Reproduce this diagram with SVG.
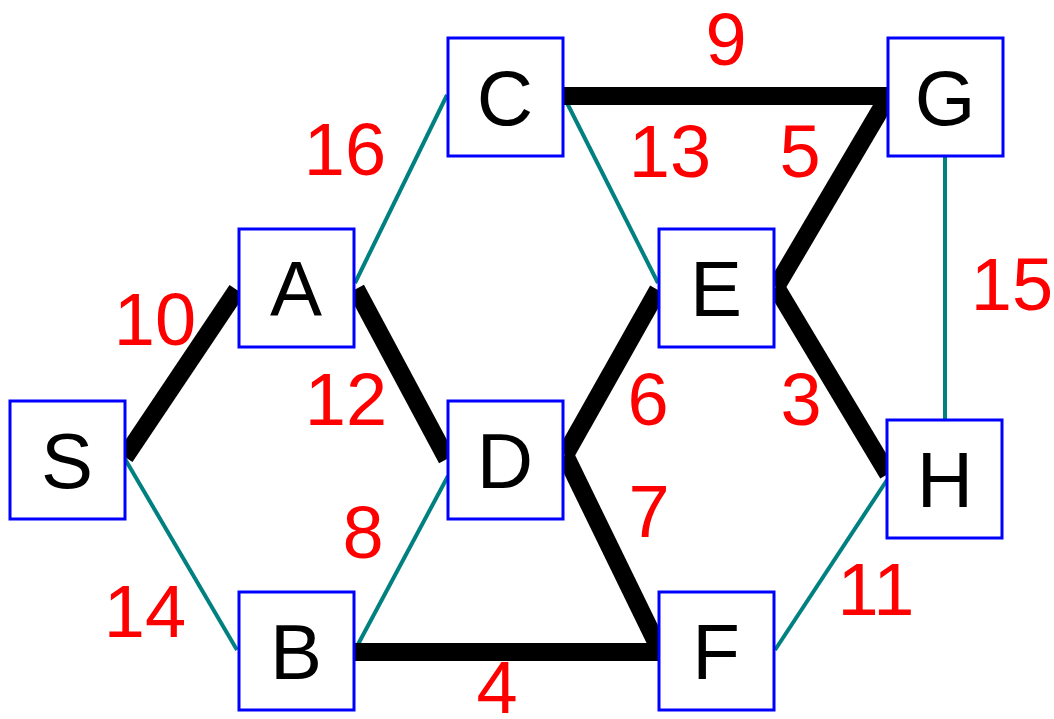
<svg xmlns="http://www.w3.org/2000/svg" width="1054" height="719" viewBox="0 0 1054 719">
<style>
.box{fill:#fff;stroke:#0000ff;stroke-width:3}
.lbl{font-family:"Liberation Sans",Arial,sans-serif;font-size:78px;fill:#000;text-anchor:middle}
.w{font-family:"Liberation Sans",Arial,sans-serif;font-size:74px;fill:#ff0000;text-anchor:middle}
.thin{stroke:#008080;stroke-width:4;fill:none}
.thick{stroke:#000;stroke-width:18;fill:none;stroke-linecap:butt}
</style>
<rect width="1054" height="719" fill="#fff"/>
<g id="edges">
<line class="thin" x1="125" y1="459" x2="237" y2="650"/>
<line class="thin" x1="355" y1="283" x2="447" y2="95"/>
<line class="thin" x1="564" y1="97" x2="658" y2="283"/>
<line class="thin" x1="355" y1="650" x2="448" y2="476"/>
<line class="thin" x1="945" y1="157" x2="945" y2="419"/>
<line class="thin" x1="775" y1="650" x2="887" y2="480"/>
<line class="thick" x1="125" y1="457" x2="237" y2="290"/>
<line class="thick" x1="356" y1="289" x2="447" y2="459"/>
<line class="thick" x1="564" y1="96" x2="888" y2="96"/>
<line class="thick" x1="888" y1="97" x2="776" y2="287"/>
<line class="thick" x1="776" y1="287" x2="888" y2="474"/>
<line class="thick" x1="658" y1="290" x2="565" y2="455"/>
<line class="thick" x1="565" y1="455" x2="660" y2="650"/>
<line class="thick" x1="355" y1="652" x2="660" y2="652"/>
</g>
<g id="weights">
<text class="w" x="726" y="65">9</text>
<text class="w" x="345" y="175">16</text>
<text class="w" x="670" y="177">13</text>
<text class="w" x="800" y="177">5</text>
<text class="w" x="155" y="345">10</text>
<text class="w" x="1012" y="310">15</text>
<text class="w" x="346" y="425">12</text>
<text class="w" x="648" y="425">6</text>
<text class="w" x="801" y="425">3</text>
<text class="w" x="363" y="558">8</text>
<text class="w" x="649" y="537">7</text>
<text class="w" x="145" y="637">14</text>
<text class="w" x="876" y="615">11</text>
<text class="w" x="497" y="713">4</text>
</g>
<g id="node-S"><rect class="box" x="10" y="401" width="115" height="118"/><text class="lbl" x="67" y="488">S</text></g>
<g id="node-A"><rect class="box" x="239" y="229" width="115" height="118"/><text class="lbl" x="296" y="316">A</text></g>
<g id="node-C"><rect class="box" x="448" y="38" width="115" height="118"/><text class="lbl" x="505" y="125">C</text></g>
<g id="node-D"><rect class="box" x="448" y="401" width="115" height="118"/><text class="lbl" x="505" y="488">D</text></g>
<g id="node-B"><rect class="box" x="239" y="592" width="115" height="118"/><text class="lbl" x="296" y="679">B</text></g>
<g id="node-E"><rect class="box" x="659" y="229" width="115" height="118"/><text class="lbl" x="716" y="316">E</text></g>
<g id="node-F"><rect class="box" x="659" y="592" width="115" height="118"/><text class="lbl" x="716" y="679">F</text></g>
<g id="node-G"><rect class="box" x="888" y="38" width="115" height="118"/><text class="lbl" x="945" y="125">G</text></g>
<g id="node-H"><rect class="box" x="887" y="420" width="115" height="118"/><text class="lbl" x="945" y="507">H</text></g>
</svg>
